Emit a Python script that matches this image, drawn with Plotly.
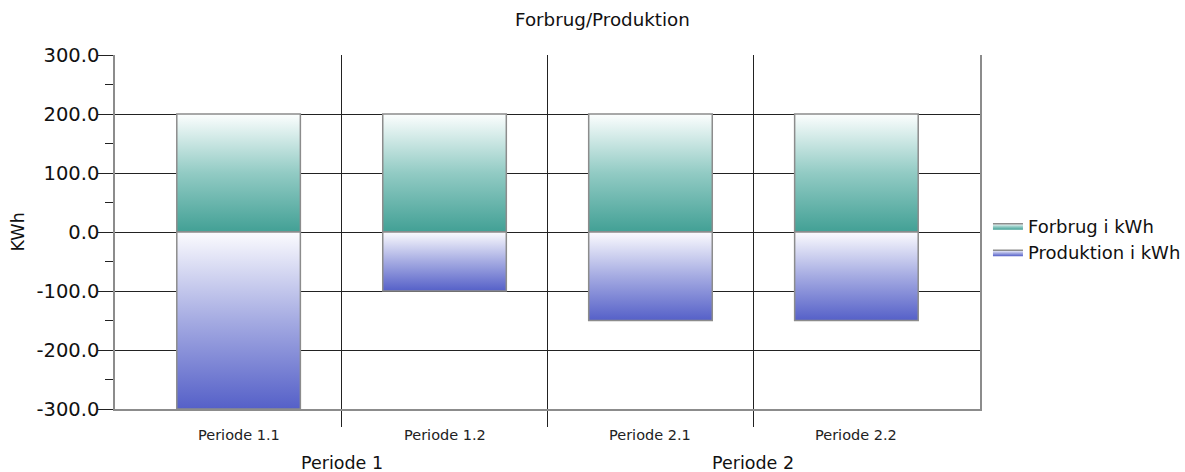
import plotly.graph_objects as go

# ---- data ----
categories = ["Periode 1.1", "Periode 1.2", "Periode 2.1", "Periode 2.2"]
groups = ["Periode 1", "Periode 2"]
group_sizes = [2, 2]
forbrug = [200, 200, 200, 200]
produktion = [-300, -100, -150, -150]
series_names = ["Forbrug i kWh", "Produktion i kWh"]
y_tick_values = [-300, -200, -100, 0, 100, 200, 300]
y_tick_labels = [f"{v:.1f}" for v in y_tick_values]
y_title = "KWh"

FONT = "DejaVu Sans"
teal_scale = [[0, "#42a095"], [0.5, "#92cbc4"], [1, "#fcfefe"]]
blue_scale = [[0, "#5560c8"], [0.5, "#a5abe2"], [1, "#fbfbfe"]]
bar_w = 0.6

fig = go.Figure()


def add_bars(values, name, scale):
    for i, v in enumerate(values):
        x0, x1 = i - bar_w / 2, i + bar_w / 2
        # dark end at the base (0) for positive bars, at the far end for negative bars
        if v >= 0:
            g0, g1 = 0, v
        else:
            g0, g1 = v, 0
        fig.add_trace(go.Scatter(
            x=[x0, x1, x1, x0, x0],
            y=[0, 0, v, v, 0],
            mode="lines",
            fill="toself",
            fillgradient=dict(type="vertical", colorscale=scale, start=g0, stop=g1),
            line=dict(color="#8c8c8c", width=1.5),
            name=name,
            legendgroup=name,
            showlegend=(i == 0),
            hoverinfo="skip",
        ))


add_bars(forbrug, series_names[0], teal_scale)
add_bars(produktion, series_names[1], blue_scale)

annotations = []
for i, c in enumerate(categories):
    annotations.append(dict(x=i, y=-0.0734, xref="x", yref="paper", text=c,
                            showarrow=False, yanchor="middle",
                            font=dict(family=FONT, size=14.5, color="#222")))
start = 0
for g, n in zip(groups, group_sizes):
    center = start + (n - 1) / 2
    annotations.append(dict(x=center, y=-0.1525, xref="x", yref="paper", text=g,
                            showarrow=False, yanchor="middle",
                            font=dict(family=FONT, size=17.5, color="#111")))
    start += n

# y-axis title
annotations.append(dict(x=-0.1127, y=0.5, xref="paper", yref="paper", text=y_title,
                        textangle=-90, showarrow=False, xanchor="center", yanchor="middle",
                        font=dict(family=FONT, size=17.5, color="#111")))

dividers = [i + 0.5 for i in range(len(categories) - 1)]

fig.update_layout(
    width=1185, height=472,
    margin=dict(l=115, r=205, t=55, b=63, autoexpand=False),
    paper_bgcolor="white", plot_bgcolor="white",
    font=dict(family=FONT, color="#111"),
    title=dict(text="Forbrug/Produktion", x=0.5084, xanchor="center", y=0.958,
               yanchor="middle", font=dict(family=FONT, size=18.3, color="#111")),
    showlegend=True,
    legend=dict(x=1.0092, y=0.48, xanchor="left", yanchor="middle",
                font=dict(family=FONT, size=18, color="#111"),
                bgcolor="rgba(0,0,0,0)", tracegroupgap=0),
    annotations=annotations,
    xaxis=dict(range=[-0.6, len(categories) - 0.4], tickvals=dividers,
               ticktext=["" for _ in dividers], ticks="outside", ticklen=16,
               tickcolor="#222", tickwidth=1.3, showgrid=True, gridcolor="#222",
               gridwidth=1.3, showline=True, linecolor="#8c8c8c", linewidth=1.5,
               zeroline=False, fixedrange=True),
    yaxis=dict(range=[-300, 300], tickvals=y_tick_values, ticktext=y_tick_labels,
               ticks="outside", ticklen=15, tickcolor="#222", tickwidth=1.3,
               ticklabelstandoff=-5,
               minor=dict(dtick=50, tick0=0, ticks="outside", ticklen=8, tickcolor="#222",
                          tickwidth=1.3, showgrid=False),
               showgrid=True, gridcolor="#222", gridwidth=1.3,
               zeroline=True, zerolinecolor="#222", zerolinewidth=1.3,
               showline=True, linecolor="#8c8c8c", linewidth=1.5, mirror=True,
               tickfont=dict(family=FONT, size=19.5, color="#111"),
               fixedrange=True),
)

fig.write_html("out.html", config={"displayModeBar": False},
               post_script="document.body.style.margin='0';document.body.style.overflow='hidden';")
